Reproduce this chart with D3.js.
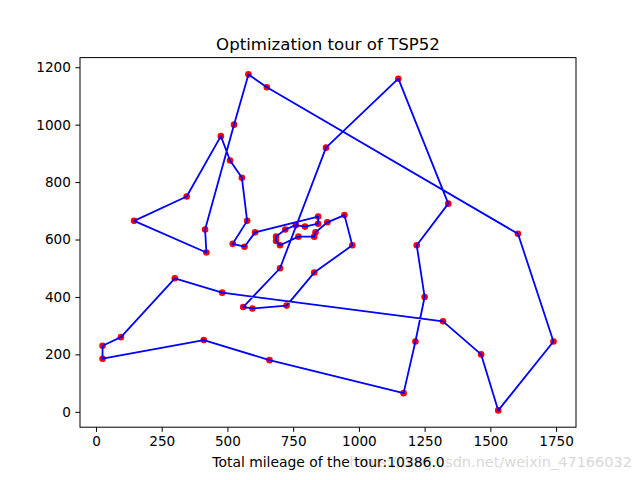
<!DOCTYPE html>
<html><head><meta charset="utf-8">
<script src="https://cdn.jsdelivr.net/npm/d3@7"></script>
<style>body{margin:0;background:#fff}svg{display:block}text{font-family:"DejaVu Sans",sans-serif}</style>
</head><body>
<svg id="c" width="640" height="480"></svg>
<script>
// City coordinates (city id = index + 1)
const cityX = [565,25,345,945,845,880,25,525,580,650,1605,1220,1465,1530,845,725,145,415,510,560,300,520,480,835,975,1215,1320,1250,660,410,420,575,1150,700,685,685,770,795,720,760,475,95,875,700,555,830,1170,830,605,595,1340,1740];
const cityY = [575,185,750,685,655,660,230,1000,1175,1130,620,580,200,5,680,370,665,635,875,365,465,585,415,625,580,245,315,400,180,250,555,665,1160,580,595,610,610,645,635,650,960,260,920,500,815,485,65,610,625,360,725,245];
// Tour order (city ids)
const tour = [1,22,32,45,19,41,3,17,31,18,8,9,10,11,52,14,13,27,23,21,42,7,2,30,29,47,26,28,12,51,33,43,44,20,50,16,46,25,4,6,24,48,37,34,35,36,39,40,38,5,15,49,1];
const xTicks = [0,250,500,750,1000,1250,1500,1750];
const yTicks = [0,200,400,600,800,1000,1200];
const titleText = "Optimization tour of TSP52";
const xLabelText = "Total mileage of the tour:10386.0";
const watermark = "https://blog.csdn.net/weixin_47166032";

const svg = d3.select("#c");
const L=80, R=576, T=57.6, B=427.2;
const x = d3.scaleLinear().domain([-60.75,1825.75]).range([L,R]);
const y = d3.scaleLinear().domain([-53.5,1233.5]).range([B,T]);

const xa = svg.append("g").attr("transform",`translate(0,${B})`)
  .call(d3.axisBottom(x).tickValues(xTicks).tickSize(4.67).tickPadding(4.5).tickFormat(d3.format("d")));
const ya = svg.append("g").attr("transform",`translate(${L},0)`)
  .call(d3.axisLeft(y).tickValues(yTicks).tickSize(4.67).tickPadding(4.5).tickFormat(d3.format("d")));
[xa,ya].forEach(g=>{
  g.select(".domain").remove();
  g.selectAll("line").attr("stroke","#000").attr("stroke-width",1);
  g.selectAll("text").attr("font-size","13.6px").attr("fill","#000").attr("font-family","DejaVu Sans");
});

// points
svg.append("g").selectAll("circle").data(d3.range(cityX.length)).join("circle")
  .attr("cx",i=>x(cityX[i])).attr("cy",i=>y(cityY[i])).attr("r",3.3).attr("fill","#ff0000");

// tour line
const line = d3.line().x(c=>x(cityX[c-1])).y(c=>y(cityY[c-1]));
svg.append("path").attr("d",line(tour)).attr("fill","none").attr("stroke","#0000ff").attr("stroke-width",1.8).attr("stroke-linejoin","round");

svg.append("rect").attr("x",L).attr("y",T).attr("width",R-L).attr("height",B-T)
  .attr("fill","none").attr("stroke","#000").attr("stroke-width",1);

svg.append("text").attr("x",(L+R)/2).attr("y",49.5).attr("text-anchor","middle")
  .attr("font-size","16.6px").attr("fill","#000").text(titleText);
svg.append("text").attr("x",632).attr("y",467).attr("text-anchor","end")
  .attr("font-size","14.5px").attr("fill","#d9d9d9").attr("font-family","Liberation Sans").text(watermark);
svg.append("text").attr("x",328.5).attr("y",467).attr("text-anchor","middle")
  .attr("font-size","13.9px").attr("fill","#000").text(xLabelText);
</script>
</body></html>
